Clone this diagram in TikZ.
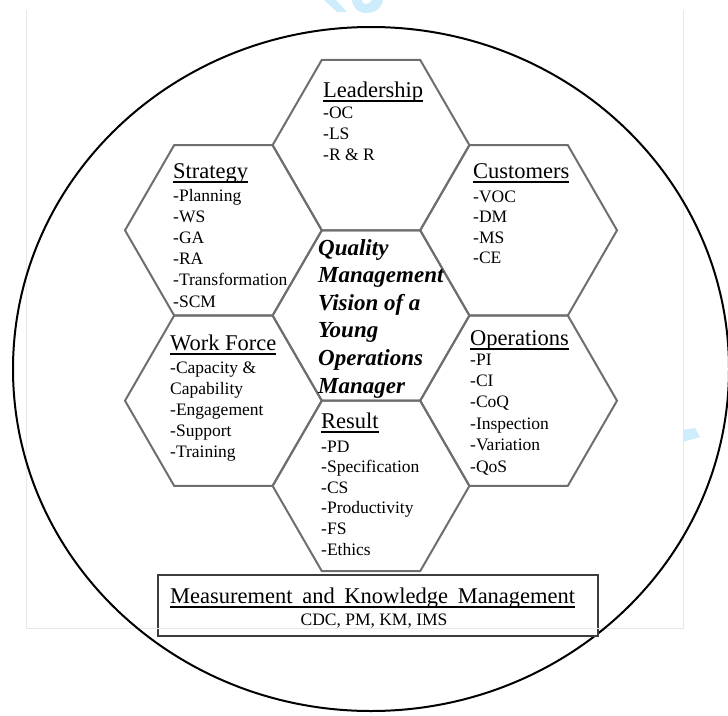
\documentclass[tikz,border=0pt]{standalone}
\usepackage{fontspec}
\setmainfont{Liberation Serif}
\usetikzlibrary{shapes.geometric}
\definecolor{hexgray}{RGB}{110,110,110}
\definecolor{boxgray}{RGB}{60,60,60}
\definecolor{framegray}{RGB}{232,232,232}
\definecolor{wmcyan}{RGB}{205,236,252}
\newcommand\myul[1]{\setbox0\hbox{#1}\rlap{\rule[-5pt]{\wd0}{1.6pt}}\box0}
\begin{document}
\begin{tikzpicture}[x=1pt,y=-1pt,
  hexa/.style={draw=hexgray, line width=2pt, regular polygon, regular polygon sides=6,
    minimum size=196.8pt, inner sep=0pt, outer sep=0pt},
  ttl/.style={anchor=base west, inner sep=0pt, font=\fontsize{22.5}{27}\selectfont},
  itm/.style={anchor=base west, inner sep=0pt, font=\fontsize{17.5}{21}\selectfont},
  ctr/.style={anchor=base west, inner sep=0pt, font=\fontsize{23}{28}\selectfont\bfseries\itshape}]
\useasboundingbox (0,0) rectangle (728,715);
% faint frame and watermark fragments
\draw[framegray, line width=1pt] (26,10) -- (26,628) -- (683,628) -- (683,10);
\fill[wmcyan] (324,0) -- (336,0) -- (347,12) -- (337,12) -- cycle;
\fill[wmcyan] (352,0) -- (362,0) .. controls (362,5) and (368,6) .. (372,0) -- (383,0)
  .. controls (381,9) and (375,13) .. (366,13) .. controls (358,13) and (353,8) .. (352,0) -- cycle;
\fill[wmcyan] (683,430) -- (695,428) -- (700,437) -- (683,442) -- cycle;
% outer circle
\draw[black, line width=2pt] (371,369) ellipse [x radius=358pt, y radius=342pt];
% hexagons
\node[hexa] (hc) at (371,315.5) {};
\node[hexa] (hl) at (371,145.1) {};
\node[hexa] (hs) at (223.4,230.3) {};
\node[hexa] (hcu) at (518.6,230.3) {};
\node[hexa] (hw) at (223.4,400.7) {};
\node[hexa] (ho) at (518.6,400.7) {};
\node[hexa] (hr) at (371,485.9) {};
% Leadership
\node[ttl] (tl) at (323,97) {\myul{Leadership}};
\foreach \t [count=\i] in {-OC,-LS,-R \& R}
  \node[itm] (l\i) at (323,{118+21*(\i-1)}) {\t};
% Strategy
\node[ttl] (ts) at (173,178) {\myul{Strategy}};
\foreach \t [count=\i] in {-Planning,-WS,-GA,-RA,-Transformation,-SCM}
  \node[itm] (s\i) at (173,{201+21.2*(\i-1)}) {\t};
% Customers
\node[ttl] (tcu) at (473,178) {\myul{Customers}};
\foreach \t [count=\i] in {-VOC,-DM,-MS,-CE}
  \node[itm] (c\i) at (473,{202+20.6*(\i-1)}) {\t};
% Work Force
\node[ttl] (tw) at (170,350) {\myul{Work Force}};
\foreach \t [count=\i] in {-Capacity \&,Capability,-Engagement,-Support,-Training}
  \node[itm] (w\i) at (170,{373+21.2*(\i-1)}) {\t};
% Operations
\node[ttl] (to) at (470,345) {\myul{Operations}};
\foreach \t [count=\i] in {-PI,-CI,-CoQ,-Inspection,-Variation,-QoS}
  \node[itm] (o\i) at (470,{365+21.4*(\i-1)}) {\t};
% Result
\node[ttl] (tr) at (321,428) {\myul{Result}};
\foreach \t [count=\i] in {-PD,-Specification,-CS,-Productivity,-FS,-Ethics}
  \node[itm] (r\i) at (321,{452+20.6*(\i-1)}) {\t};
% Centre
\foreach \t [count=\i] in {Quality,Management,Vision of a,Young,Operations,Manager}
  \node[ctr] (q\i) at (318,{255+27.6*(\i-1)}) {\t};
% Measurement box
\node[draw=boxgray, fill=white, line width=1.4pt, minimum width=440pt, minimum height=61pt,
  inner sep=0pt] (mkm) at (378,605.5) {};
\draw[framegray, line width=1pt] (mkm.west |- 0,628) -- (mkm.east |- 0,628);
\node[ttl] (mt) at (170,603) {\myul{\makebox[405pt][s]{Measurement and Knowledge Management}}};
\node[anchor=base, inner sep=0pt, font=\fontsize{17.5}{21}\selectfont] (ms) at (374,625) {CDC, PM, KM, IMS};
\end{tikzpicture}
\end{document}
